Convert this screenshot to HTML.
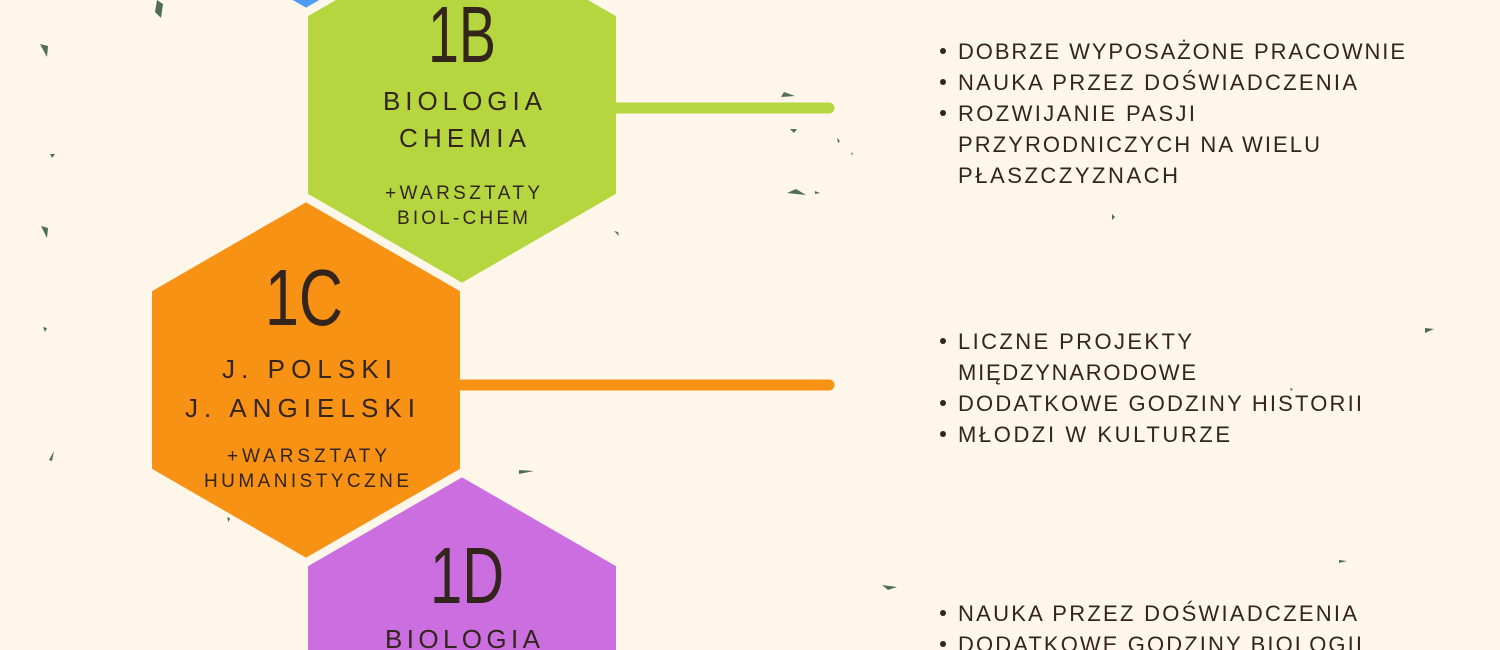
<!DOCTYPE html>
<html><head><meta charset="utf-8"><style>
html,body{margin:0;padding:0;background:#fdf6e9;width:1500px;height:650px;overflow:hidden;}
svg{display:block}
text{font-family:"Liberation Sans",sans-serif;fill:#33241c;}
</style></head><body>
<svg width="1500" height="650" viewBox="0 0 1500 650" xmlns="http://www.w3.org/2000/svg">
<rect width="1500" height="650" fill="#fdf6e9"/>
<g fill="#4f6e5a">
<polygon points="157,0 163,4 161,18 155,12"/>
<polygon points="40,44 48,46 47,57"/>
<polygon points="41,226 48,228 47,238"/>
<polygon points="43,327 47,328 45,332"/>
<polygon points="54,451 52,461 49,460"/>
<polygon points="784,92 795,96 781,97"/>
<polygon points="790,129 797,129 794,133"/>
<polygon points="787,193 806,195 796,189"/>
<polygon points="815,191 820,193 815,194"/>
<polygon points="837,138 840,141 838,143"/>
<polygon points="852,152 853,155 851,154"/>
<polygon points="614,231 618,232 619,236"/>
<polygon points="1112,214 1115,217 1112,220"/>
<polygon points="1425,328 1434,329 1425,333"/>
<polygon points="1339,560 1347,561 1339,563"/>
<polygon points="882,585 897,587 888,590"/>
<polygon points="519,470 534,471 519,474"/>
<polygon points="227,514 233,515 228,522"/>
<polygon points="1290,388 1293,389 1291,391"/>
<polygon points="590,36 596,40 589,42"/>
<polygon points="50,154 55,154 52,158"/>
</g>
<g stroke="#fdf6e9" stroke-width="4" stroke-linejoin="miter">
<polygon fill="#4f9cf5" points="306,-350 462,-260 462,-80 306,10 150,-80 150,-260"/>
<polygon fill="#b5d63f" points="462,-75 618,15 618,195 462,285 306,195 306,15"/>
<polygon fill="#f79214" points="306,200 462,290 462,470 306,560 150,470 150,290"/>
<polygon fill="#cb6fe0" points="462,475 618,565 618,745 462,835 306,745 306,565"/>
</g>
<line x1="616" y1="108" x2="829" y2="108" stroke="#b5d63f" stroke-width="11" stroke-linecap="round"/>
<line x1="462" y1="385" x2="829" y2="385" stroke="#f79214" stroke-width="11" stroke-linecap="round"/>

<g text-anchor="start" font-size="80">
<text x="428" y="62" textLength="68" lengthAdjust="spacingAndGlyphs">1B</text>
<text x="265" y="325" textLength="78" lengthAdjust="spacingAndGlyphs">1C</text>
<text x="430" y="603" textLength="74" lengthAdjust="spacingAndGlyphs">1D</text>
</g>
<g font-size="26">
<text x="383" y="110" textLength="159" lengthAdjust="spacing">BIOLOGIA</text>
<text x="399" y="147" textLength="127" lengthAdjust="spacing">CHEMIA</text>
<text x="222" y="378" textLength="170" lengthAdjust="spacing">J. POLSKI</text>
<text x="185" y="417" textLength="230" lengthAdjust="spacing">J. ANGIELSKI</text>
<text x="385" y="648" textLength="155" lengthAdjust="spacing">BIOLOGIA</text>
</g>
<g font-size="19">
<text x="385" y="199" textLength="155" lengthAdjust="spacing">+WARSZTATY</text>
<text x="397" y="224" textLength="131" lengthAdjust="spacing">BIOL-CHEM</text>
<text x="227" y="462" textLength="160" lengthAdjust="spacing">+WARSZTATY</text>
<text x="204" y="487" textLength="205" lengthAdjust="spacing">HUMANISTYCZNE</text>
</g>
<g fill="#33241c">
<circle cx="943" cy="51" r="3"/><circle cx="943" cy="82" r="3"/><circle cx="943" cy="113" r="3"/>
<circle cx="943" cy="341" r="3"/><circle cx="943" cy="403" r="3"/><circle cx="943" cy="434" r="3"/>
<circle cx="943" cy="613" r="3"/><circle cx="943" cy="644" r="3"/>
</g>
<g font-size="22">
<text x="958" y="59" textLength="447" lengthAdjust="spacing">DOBRZE WYPOSAŻONE PRACOWNIE</text>
<text x="958" y="90" textLength="399" lengthAdjust="spacing">NAUKA PRZEZ DOŚWIADCZENIA</text>
<text x="958" y="121" textLength="237" lengthAdjust="spacing">ROZWIJANIE PASJI</text>
<text x="958" y="152" textLength="362" lengthAdjust="spacing">PRZYRODNICZYCH NA WIELU</text>
<text x="958" y="183" textLength="220" lengthAdjust="spacing">PŁASZCZYZNACH</text>
<text x="958" y="349" textLength="234" lengthAdjust="spacing">LICZNE PROJEKTY</text>
<text x="958" y="380" textLength="238" lengthAdjust="spacing">MIĘDZYNARODOWE</text>
<text x="958" y="411" textLength="404" lengthAdjust="spacing">DODATKOWE GODZINY HISTORII</text>
<text x="958" y="442" textLength="272" lengthAdjust="spacing">MŁODZI W KULTURZE</text>
<text x="958" y="621" textLength="399" lengthAdjust="spacing">NAUKA PRZEZ DOŚWIADCZENIA</text>
<text x="958" y="652" textLength="404" lengthAdjust="spacing">DODATKOWE GODZINY BIOLOGII</text>
</g>
</svg>
</body></html>
